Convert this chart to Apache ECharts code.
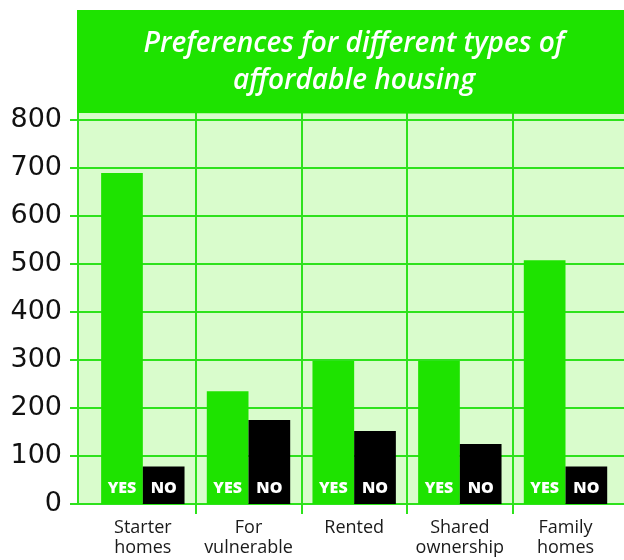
<!DOCTYPE html>
<html><head><meta charset="utf-8">
<script src="https://cdn.jsdelivr.net/npm/echarts@6/dist/echarts.min.js"></script>
<style>html,body{margin:0;padding:0;background:#fff}#c{width:624px;height:560px}</style>
</head><body><div id="c"></div>
<script>
// ---- data ----
const titleLines = ['Preferences for different types of', 'affordable housing'];
const categories = ['Starter\nhomes', 'For\nvulnerable', 'Rented', 'Shared\nownership', 'Family\nhomes'];
const yesValues = [690, 235, 298, 298, 508];
const noValues = [78, 175, 152, 125, 78];
const seriesNames = ['YES', 'NO'];
const yMin = 0, yMax = 817, yInterval = 100;

// ---- styles ----
const GREEN = '#1ee300';
const LIGHT = '#d9fccc';
const LINE = '#2ee21c';
const FONT = 'Open Sans';

const chart = echarts.init(document.getElementById('c'), null, {renderer: 'canvas'});
const nCat = categories.length;
const boundaryFn = (i) => i >= 1 && i <= nCat - 1;

chart.setOption({
  animation: false,
  textStyle: {fontFamily: FONT},
  grid: [
    {left: 78, right: 0, top: 112, bottom: 56, show: true, backgroundColor: LIGHT, borderWidth: 0, outerBoundsMode: 'none'},
    {left: 90, width: 634, top: 112, bottom: 56, outerBoundsMode: 'none'}
  ],
  xAxis: [
    {gridIndex: 0, type: 'value', show: false},
    {gridIndex: 1, type: 'category', data: categories.concat(['']),
     axisLine: {show: false},
     axisTick: {show: true, interval: boundaryFn, length: 10, lineStyle: {color: LINE, width: 2}},
     splitLine: {show: true, interval: boundaryFn, lineStyle: {color: LINE, width: 2}},
     axisLabel: {interval: 0, fontSize: 18, lineHeight: 20, color: '#1a1a1a', margin: 14, fontFamily: FONT}}
  ],
  yAxis: [
    {gridIndex: 0, type: 'value', min: yMin, max: yMax, interval: yInterval,
     axisLine: {show: true, lineStyle: {color: LINE, width: 2}},
     axisTick: {show: true, length: 8, lineStyle: {color: LINE, width: 2}},
     splitLine: {show: true, lineStyle: {color: LINE, width: 2}},
     axisLabel: {fontSize: 27, color: '#111', margin: 16, showMaxLabel: false, fontFamily: 'DejaVu Sans'}},
    {gridIndex: 1, type: 'value', min: yMin, max: yMax, interval: yInterval, show: false}
  ],
  series: [
    {name: seriesNames[0], type: 'bar', xAxisIndex: 1, yAxisIndex: 1, data: yesValues,
     barWidth: 41.7, barGap: '0%', itemStyle: {color: GREEN},
     label: {show: true, position: 'insideBottom', distance: 8, formatter: seriesNames[0],
             color: '#fff', fontWeight: 800, fontSize: 16, fontFamily: FONT}},
    {name: seriesNames[1], type: 'bar', xAxisIndex: 1, yAxisIndex: 1, data: noValues,
     barWidth: 41.7, barGap: '0%', itemStyle: {color: '#000'},
     label: {show: true, position: 'insideBottom', distance: 8, formatter: seriesNames[1],
             color: '#fff', fontWeight: 800, fontSize: 16, fontFamily: FONT}}
  ],
  graphic: [
    {type: 'polygon', z: 5, shape: {points: [[77, 10], [624, 10], [624, 114], [77, 113]]},
     style: {fill: GREEN}},
    {type: 'text', z: 6, style: {text: titleLines.join('\n'), x: 354, y: 26, align: 'center', verticalAlign: 'top',
      fill: '#fff', font: 'italic 600 28px "Open Sans"', lineHeight: 37}}
  ]
});
</script></body></html>
